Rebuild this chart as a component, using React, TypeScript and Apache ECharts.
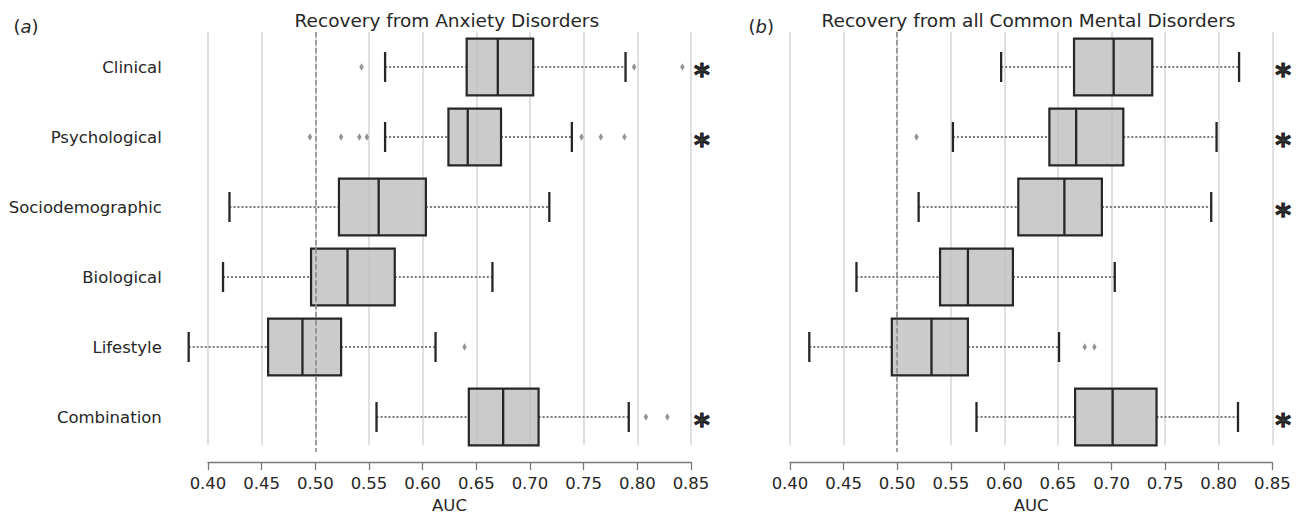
import React, { useEffect, useRef } from "react";
import * as echarts from "echarts";

// ---------- data ----------
const categories = ["Clinical", "Psychological", "Sociodemographic", "Biological", "Lifestyle", "Combination"];

const panelTitles = ["Recovery from Anxiety Disorders", "Recovery from all Common Mental Disorders"];
const panelLetters = ["a", "b"];

const tickMin = 0.4;
const tickMax = 0.85;
const tickStep = 0.05;
const chanceLevel = 0.5;
const starPosition = 0.86;

// Anxiety disorders
const anxietyLow = [0.565, 0.565, 0.42, 0.414, 0.382, 0.557];
const anxietyQ1 = [0.641, 0.624, 0.522, 0.496, 0.456, 0.643];
const anxietyMedian = [0.67, 0.642, 0.559, 0.53, 0.488, 0.675];
const anxietyQ3 = [0.703, 0.673, 0.603, 0.574, 0.524, 0.708];
const anxietyHigh = [0.789, 0.739, 0.718, 0.665, 0.612, 0.792];
const anxietyOutliers = [
  [0.543, 0.797, 0.842],
  [0.495, 0.524, 0.541, 0.548, 0.748, 0.766, 0.788],
  [],
  [],
  [0.639],
  [0.808, 0.828],
];
const anxietySignificant = [true, true, false, false, false, true];

// All common mental disorders
const cmdLow = [0.597, 0.552, 0.52, 0.462, 0.418, 0.574];
const cmdQ1 = [0.665, 0.642, 0.613, 0.54, 0.495, 0.666];
const cmdMedian = [0.702, 0.667, 0.656, 0.566, 0.532, 0.701];
const cmdQ3 = [0.738, 0.711, 0.691, 0.608, 0.566, 0.742];
const cmdHigh = [0.819, 0.798, 0.793, 0.703, 0.651, 0.818];
const cmdOutliers = [[], [0.518], [], [], [0.675, 0.684], []];
const cmdSignificant = [true, true, true, false, false, true];

// ---------- layout ----------
const FONT = "DejaVu Sans";
const GRID_TOP = 32;
const GRID_HEIGHT = 420;
const DATA_MIN = 0.37;
const DATA_MAX = 0.87;
const panelsPx = [
  { tickLeft: 208, tickRight: 691 },
  { tickLeft: 790, tickRight: 1272.3 },
];

function buildOption() {
  const panels = [
    { low: anxietyLow, q1: anxietyQ1, med: anxietyMedian, q3: anxietyQ3, high: anxietyHigh, out: anxietyOutliers, sig: anxietySignificant },
    { low: cmdLow, q1: cmdQ1, med: cmdMedian, q3: cmdQ3, high: cmdHigh, out: cmdOutliers, sig: cmdSignificant },
  ];
  const grid: any[] = [];
  const xAxis: any[] = [];
  const yAxis: any[] = [];
  const series: any[] = [];
  const graphic: any[] = [];

  panels.forEach((p, pi) => {
    const px = panelsPx[pi];
    const scale = (px.tickRight - px.tickLeft) / (tickMax - tickMin);
    const dataLeft = px.tickLeft - (tickMin - DATA_MIN) * scale;
    const dataWidth = (DATA_MAX - DATA_MIN) * scale;
    const gData = grid.length;
    grid.push({ left: dataLeft, width: dataWidth, top: GRID_TOP, height: GRID_HEIGHT, containLabel: false });
    const gDisp = grid.length;
    grid.push({ left: px.tickLeft, width: px.tickRight - px.tickLeft, top: GRID_TOP, height: GRID_HEIGHT, containLabel: false });

    const xData = xAxis.length;
    xAxis.push({ type: "value", gridIndex: gData, min: DATA_MIN, max: DATA_MAX, show: false });
    xAxis.push({
      type: "value",
      gridIndex: gDisp,
      min: tickMin,
      max: tickMax,
      interval: tickStep,
      offset: 17.3,
      name: "AUC",
      nameLocation: "middle",
      nameGap: 33,
      nameTextStyle: { fontSize: 16.5, color: "#262626", fontFamily: FONT },
      axisLine: { show: true, onZero: false, lineStyle: { color: "#7a7a7a", width: 1.3 } },
      axisTick: { show: true, inside: false, length: 8, lineStyle: { color: "#7a7a7a", width: 1.3 } },
      axisLabel: { show: true, margin: 13, fontSize: 16.5, color: "#262626", fontFamily: FONT, formatter: (v: number) => v.toFixed(2) },
      splitLine: { show: true, lineStyle: { color: "#d9d9d9", width: 1.6 } },
    });
    const yData = yAxis.length;
    yAxis.push({
      type: "category",
      gridIndex: gData,
      data: categories,
      inverse: true,
      axisLine: { show: false },
      axisTick: { show: false },
      splitLine: { show: false },
      axisLabel: { show: pi === 0, margin: 14, fontSize: 16.5, color: "#262626", fontFamily: FONT },
    });
    yAxis.push({ type: "value", gridIndex: gDisp, show: false, min: 0, max: 1 });

    // chance line
    series.push({
      type: "scatter",
      xAxisIndex: xData,
      yAxisIndex: yData,
      data: [],
      z: 1,
      silent: true,
      markLine: {
        silent: true,
        symbol: "none",
        label: { show: false },
        lineStyle: { color: "#8c8c8c", width: 1.6, type: [5.5, 2.5] },
        data: [{ xAxis: chanceLevel }],
        animation: false,
      },
    });

    // boxes
    series.push({
      type: "custom",
      xAxisIndex: xData,
      yAxisIndex: yData,
      z: 3,
      encode: { x: [1, 2, 3, 4, 5], y: 0 },
      data: categories.map((_, i) => [i, p.low[i], p.q1[i], p.med[i], p.q3[i], p.high[i]]),
      renderItem: (params: any, api: any) => {
        const c = api.value(0);
        const lo = api.coord([api.value(1), c]);
        const q1 = api.coord([api.value(2), c]);
        const md = api.coord([api.value(3), c]);
        const q3 = api.coord([api.value(4), c]);
        const hi = api.coord([api.value(5), c]);
        const band = api.size([0, 1])[1];
        const bh = band * 0.81;
        const cap = bh * 0.53;
        const y = lo[1];
        const edge = "#262626";
        const whisk = { stroke: "#7a7a7a", lineWidth: 2, lineDash: [2, 2] };
        const solid = { stroke: edge, lineWidth: 2.3 };
        return {
          type: "group",
          children: [
            { type: "line", shape: { x1: lo[0], y1: y, x2: q1[0], y2: y }, style: whisk },
            { type: "line", shape: { x1: q3[0], y1: y, x2: hi[0], y2: y }, style: whisk },
            { type: "line", shape: { x1: lo[0], y1: y - cap / 2, x2: lo[0], y2: y + cap / 2 }, style: solid },
            { type: "line", shape: { x1: hi[0], y1: y - cap / 2, x2: hi[0], y2: y + cap / 2 }, style: solid },
            {
              type: "rect",
              shape: { x: q1[0], y: y - bh / 2, width: q3[0] - q1[0], height: bh },
              style: { fill: "rgba(190,190,190,0.8)", stroke: edge, lineWidth: 2.2 },
            },
            { type: "line", shape: { x1: md[0], y1: y - bh / 2, x2: md[0], y2: y + bh / 2 }, style: solid },
          ],
        };
      },
    });

    // outliers
    const outData: number[][] = [];
    p.out.forEach((arr, i) => arr.forEach((v) => outData.push([v, i])));
    series.push({
      type: "scatter",
      xAxisIndex: xData,
      yAxisIndex: yData,
      z: 4,
      symbol: "diamond",
      symbolSize: [4.5, 7.5],
      itemStyle: { color: "#7a7a7a" },
      data: outData,
      silent: true,
    });

    // significance stars
    const starData: number[][] = [];
    p.sig.forEach((s, i) => {
      if (s) starData.push([starPosition, i]);
    });
    series.push({
      type: "scatter",
      xAxisIndex: xData,
      yAxisIndex: yData,
      z: 5,
      symbol: "circle",
      symbolSize: 1,
      itemStyle: { color: "rgba(0,0,0,0)" },
      data: starData,
      silent: true,
      label: {
        show: true,
        position: "inside",
        formatter: "*",
        fontSize: 30,
        fontWeight: "bold",
        color: "#000000",
        textBorderColor: "#000000",
        textBorderWidth: 1.2,
        fontFamily: FONT,
        offset: [0, 7],
      },
    });

    // titles
    const axesCenter = dataLeft + ((0.6225 - DATA_MIN) / (DATA_MAX - DATA_MIN)) * dataWidth;
    graphic.push({
      type: "text",
      x: axesCenter,
      y: 20,
      style: {
        text: panelTitles[pi],
        fontSize: 18.5,
        fontFamily: FONT,
        fill: "#262626",
        align: "center",
        verticalAlign: "middle",
      },
    });
    graphic.push({
      type: "text",
      x: pi === 0 ? 13.5 : 748.5,
      y: 26,
      style: {
        text: "({i|" + panelLetters[pi] + "})",
        fontSize: 18,
        fontFamily: FONT,
        fill: "#262626",
        align: "left",
        verticalAlign: "middle",
        rich: { i: { fontStyle: "italic", fontSize: 18, fontFamily: FONT, fill: "#262626" } },
      },
    });
  });

  return {
    animation: false,
    backgroundColor: "#ffffff",
    textStyle: { fontFamily: FONT },
    grid,
    xAxis,
    yAxis,
    series,
    graphic,
  };
}

export default function App() {
  const ref = useRef<HTMLDivElement>(null);
  useEffect(() => {
    if (!ref.current) return;
    const chart = echarts.init(ref.current, undefined, { renderer: "svg" });
    chart.setOption(buildOption() as any);
    return () => chart.dispose();
  }, []);
  return (
    <div
      ref={ref}
      style={{ position: "absolute", left: 0, top: 0, width: 1297, height: 519, background: "#fff" }}
    />
  );
}
